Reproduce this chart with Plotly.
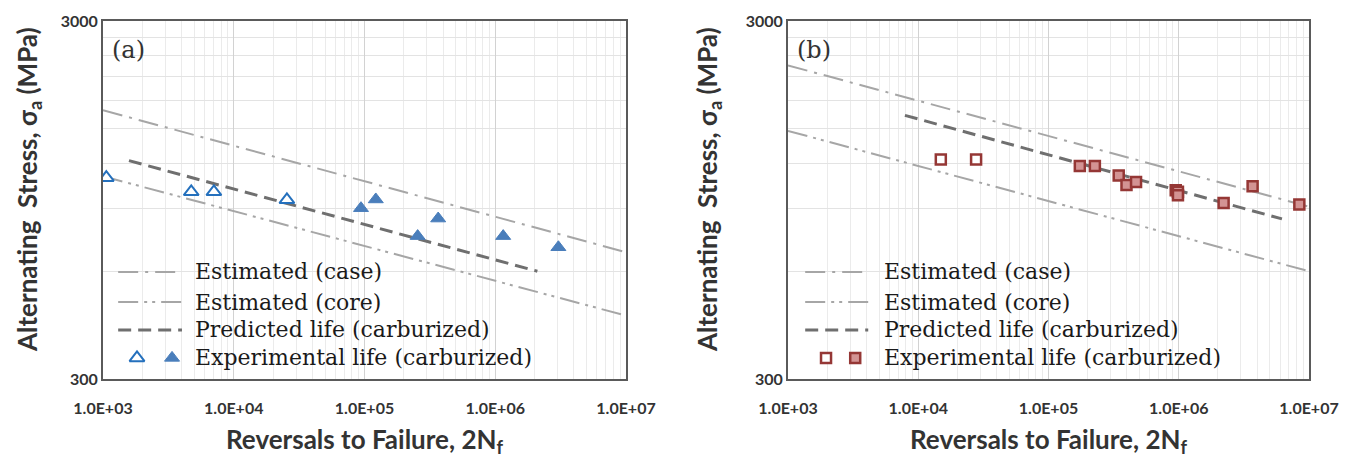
import plotly.graph_objects as go

# ---------------- data ----------------
x_tick_vals = [1e3, 1e4, 1e5, 1e6, 1e7]
x_tick_text = ["1.0E+03", "1.0E+04", "1.0E+05", "1.0E+06", "1.0E+07"]
y_tick_vals = [300, 3000]
y_tick_text = ["300", "3000"]
x_minor_vals = [2e3, 3e3, 4e3, 5e3, 6e3, 7e3, 8e3, 9e3,
                2e4, 3e4, 4e4, 5e4, 6e4, 7e4, 8e4, 9e4,
                2e5, 3e5, 4e5, 5e5, 6e5, 7e5, 8e5, 9e5,
                2e6, 3e6, 4e6, 5e6, 6e6, 7e6, 8e6, 9e6]
y_minor_vals = [600, 900, 1200, 1500, 1800, 2100, 2400, 2700]

legend_names = ["Estimated (case)", "Estimated (core)",
                "Predicted life (carburized)", "Experimental life (carburized)"]

# panel (a)
a_case_x = [1e3, 1e7]
a_case_y = [1690, 678]
a_core_x = [1e3, 1e7]
a_core_y = [1105, 451]
a_pred_x = [1.58e3, 2.1e6]
a_pred_y = [1222, 600]
a_open_x = [1.06e3, 4.73e3, 7.05e3, 2.55e4]
a_open_y = [1095, 1000, 1000, 950]
a_fill_x = [9.4e4, 1.22e5, 2.55e5, 3.66e5, 1.15e6, 3.04e6]
a_fill_y = [900, 952, 752, 842, 752, 700]

# panel (b)
b_case_x = [1e3, 1e7]
b_case_y = [2255, 909]
b_core_x = [1e3, 1e7]
b_core_y = [1480, 600]
b_pred_x = [7.9e3, 6.2e6]
b_pred_y = [1635, 840]
b_open_x = [1.49e4, 2.78e4]
b_open_y = [1230, 1230]
b_fill_x = [1.74e5, 2.27e5, 3.46e5, 3.97e5, 4.7e5, 9.48e5, 9.86e5, 9.86e5,
            2.21e6, 3.69e6, 8.43e6]
b_fill_y = [1180, 1180, 1110, 1045, 1065, 1010, 1000, 978, 930, 1037, 922]

# ---------------- styling / layout constants ----------------
W, H = 1357, 459
L_DOM = [103 / W, 626 / W]
R_DOM = [788 / W, 1309 / W]
Y_DOM = [(H - 379) / H, (H - 21) / H]

CASE_COLOR = "#a6a6a6"
CORE_COLOR = "#a6a6a6"
PRED_COLOR = "#6f6f6f"
CASE_DASH = "20px,7px,3px,7px"
CORE_DASH = "20px,6px,3px,5px,3px,6px"
PRED_DASH = "13px,7px"

BLUE_OPEN = "#2470bd"
BLUE_FILL = "#4a7ebb"
RED_LINE = "#953735"
RED_FILL = "#d39393"

SANS = "Lato"
SERIF = "DejaVu Serif"
TXT = "#333333"

fig = go.Figure()


def add_panel(xa, ya, case, core, pred, opn, fil, open_marker, fill_marker):
    fig.add_trace(go.Scatter(x=case[0], y=case[1], mode="lines", xaxis=xa, yaxis=ya,
                             line=dict(color=CASE_COLOR, width=2, dash=CASE_DASH),
                             name=legend_names[0], showlegend=False))
    fig.add_trace(go.Scatter(x=core[0], y=core[1], mode="lines", xaxis=xa, yaxis=ya,
                             line=dict(color=CORE_COLOR, width=2, dash=CORE_DASH),
                             name=legend_names[1], showlegend=False))
    fig.add_trace(go.Scatter(x=pred[0], y=pred[1], mode="lines", xaxis=xa, yaxis=ya,
                             line=dict(color=PRED_COLOR, width=3, dash=PRED_DASH),
                             name=legend_names[2], showlegend=False))
    fig.add_trace(go.Scatter(x=opn[0], y=opn[1], mode="markers", xaxis=xa, yaxis=ya,
                             marker=open_marker, name=legend_names[3], showlegend=False))
    fig.add_trace(go.Scatter(x=fil[0], y=fil[1], mode="markers", xaxis=xa, yaxis=ya,
                             marker=fill_marker, name=legend_names[3], showlegend=False))


tri_open = dict(symbol="triangle-up", size=13, color="white",
                line=dict(color=BLUE_OPEN, width=2))
tri_fill = dict(symbol="triangle-up", size=13, color=BLUE_FILL,
                line=dict(color=BLUE_FILL, width=1))
sq_open = dict(symbol="square", size=10, color="white",
               line=dict(color=RED_LINE, width=2.5))
sq_fill = dict(symbol="square", size=10, color=RED_FILL,
               line=dict(color=RED_LINE, width=2.5))

add_panel("x", "y", (a_case_x, a_case_y), (a_core_x, a_core_y), (a_pred_x, a_pred_y),
          (a_open_x, a_open_y), (a_fill_x, a_fill_y), tri_open, tri_fill)
add_panel("x2", "y2", (b_case_x, b_case_y), (b_core_x, b_core_y), (b_pred_x, b_pred_y),
          (b_open_x, b_open_y), (b_fill_x, b_fill_y), sq_open, sq_fill)

# ---------------- manual legends (layout, in axis-domain fractions) ----------------
ROW_Y = [0.299, 0.215, 0.137, 0.059]
LEG = {
    "a": dict(xd="x domain", yd="y domain", ox="x3", oy="y3",
              line=(0.029, 0.151), text=0.172, marks=(0.065, 0.132),
              mk=(tri_open, tri_fill)),
    "b": dict(xd="x2 domain", yd="y2 domain", ox="x4", oy="y4",
              line=(0.033, 0.154), text=0.180, marks=(0.073, 0.129),
              mk=(sq_open, sq_fill)),
}
shapes = []
annotations = []
for key, g in LEG.items():
    styles = [(CASE_COLOR, 2, CASE_DASH), (CORE_COLOR, 2, CORE_DASH), (PRED_COLOR, 3, PRED_DASH)]
    for i, (c, w, d) in enumerate(styles):
        shapes.append(dict(type="line", xref=g["xd"], yref=g["yd"],
                           x0=g["line"][0], x1=g["line"][1], y0=ROW_Y[i], y1=ROW_Y[i],
                           line=dict(color=c, width=w, dash=d)))
    for i, name in enumerate(legend_names):
        annotations.append(dict(text=name, xref=g["xd"], yref=g["yd"], x=g["text"], y=ROW_Y[i],
                                xanchor="left", yanchor="middle", showarrow=False,
                                font=dict(family=SERIF, size=22, color="#1a1a1a")))
    for j in range(2):
        fig.add_trace(go.Scatter(x=[g["marks"][j]], y=[ROW_Y[3]], mode="markers",
                                 xaxis=g["ox"], yaxis=g["oy"], marker=g["mk"][j],
                                 showlegend=False, hoverinfo="skip"))

# panel labels
annotations.append(dict(text="(a)", xref="x domain", yref="y domain", x=0.048, y=0.919,
                        xanchor="center", yanchor="middle",
                        showarrow=False, font=dict(family=SERIF, size=24, color="#333333")))
annotations.append(dict(text="(b)", xref="x2 domain", yref="y2 domain", x=0.05, y=0.919,
                        xanchor="center", yanchor="middle",
                        showarrow=False, font=dict(family=SERIF, size=24, color="#333333")))

# axis titles
title_font = dict(family=SANS, size=26, color=TXT, weight="bold")
ytitle = "Alternating&nbsp; Stress, σ<sub>a</sub> (MPa)"
xtitle = "Reversals to Failure, 2N<sub>f</sub>"
for xc, yc in [(28, 190), (708, 190)]:
    annotations.append(dict(text=ytitle, xref="paper", yref="paper", x=xc / W, y=(H - yc) / H,
                            textangle=-90, showarrow=False, xanchor="center", yanchor="middle",
                            font=title_font))
for xc in [(L_DOM[0] + L_DOM[1]) / 2, (R_DOM[0] + R_DOM[1]) / 2]:
    annotations.append(dict(text=xtitle, xref="paper", yref="paper", x=xc, y=(H - 440) / H,
                            showarrow=False, xanchor="center", yanchor="middle", font=title_font))

tick_font = dict(family=SANS, size=16, color=TXT, weight="bold")


def xaxis_cfg(dom, anchor):
    return dict(type="log", range=[3, 7], domain=dom, anchor=anchor, automargin=False,
                tickmode="array", tickvals=x_tick_vals, ticktext=x_tick_text,
                showgrid=True, gridcolor="#d2d2d2", gridwidth=1,
                minor=dict(tickmode="array", tickvals=x_minor_vals, showgrid=True,
                           gridcolor="#ebebeb", gridwidth=1, ticks=""),
                showline=True, mirror=True, linecolor="#5a5a5a", linewidth=2,
                ticks="", tickfont=tick_font, ticklabelstandoff=14,
                zeroline=False, fixedrange=True)


def yaxis_cfg(anchor):
    return dict(type="log", range=[2.4771212547, 3.4771212547], domain=Y_DOM, anchor=anchor,
                automargin=False,
                tickmode="array", tickvals=y_tick_vals, ticktext=y_tick_text,
                showgrid=False,
                minor=dict(tickmode="array", tickvals=y_minor_vals, showgrid=True,
                           gridcolor="#e3e3e3", gridwidth=1, ticks=""),
                showline=True, mirror=True, linecolor="#5a5a5a", linewidth=2,
                ticks="", tickfont=tick_font, ticklabelstandoff=0,
                zeroline=False, fixedrange=True)


def overlay(ov, anchor):
    return dict(overlaying=ov, anchor=anchor, range=[0, 1], visible=False, automargin=False,
                fixedrange=True, showgrid=False, zeroline=False)


fig.update_layout(
    width=W, height=H,
    margin=dict(l=0, r=0, t=0, b=0, autoexpand=False),
    paper_bgcolor="white", plot_bgcolor="white",
    showlegend=False,
    xaxis=xaxis_cfg(L_DOM, "y"),
    yaxis=yaxis_cfg("x"),
    xaxis2=xaxis_cfg(R_DOM, "y2"),
    yaxis2=yaxis_cfg("x2"),
    xaxis3=overlay("x", "y3"),
    yaxis3=overlay("y", "x3"),
    xaxis4=overlay("x2", "y4"),
    yaxis4=overlay("y2", "x4"),
    shapes=shapes,
    annotations=annotations,
)

fig.write_html("out.html", config={"displayModeBar": False},
               post_script="document.body.style.margin='0';document.body.style.overflow='hidden';")
